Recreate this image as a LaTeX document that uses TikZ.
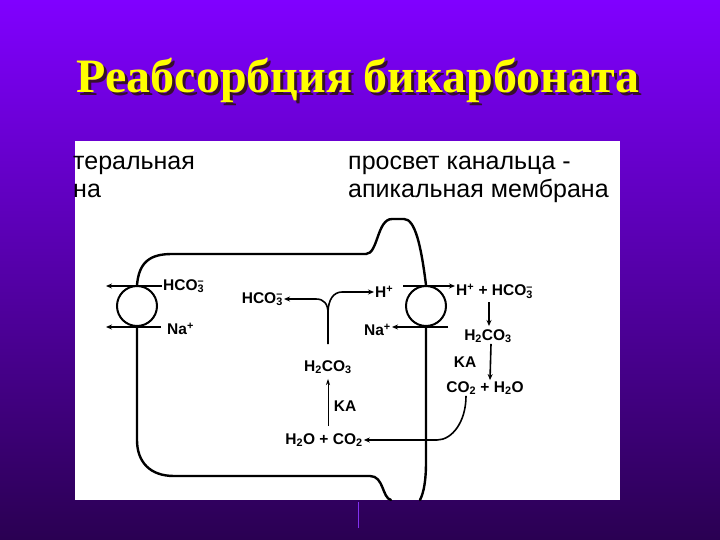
\documentclass[tikz,border=0pt]{standalone}
\usepackage{fontspec}
\setmainfont{Liberation Serif}
\setsansfont{Liberation Sans}
\usetikzlibrary{arrows.meta}
\definecolor{slideTop}{RGB}{128,0,255}
\definecolor{slideMid}{RGB}{98,0,210}
\definecolor{slideBot}{RGB}{42,0,82}
\definecolor{titleYellow}{RGB}{255,255,0}
\definecolor{titleShadow}{RGB}{55,15,45}
\definecolor{seamLine}{RGB}{130,50,240}
\newcommand{\hcoion}{HCO\rlap{\textsuperscript{--}}\textsubscript{3}}
\begin{document}
\begin{tikzpicture}
[x=1pt,y=-1pt,
  membraneLine/.style={line width=2.4pt,line cap=round},%
  fluxArrow/.style={-{Stealth[length=6pt,width=5pt]},line width=1.6pt},%
  thinArrow/.style={-{Stealth[length=6pt,width=4pt]},line width=0.9pt},%
  ionLabel/.style={font=\sffamily\bfseries\fontsize{15.5}{16}\selectfont,inner sep=1pt},%
  headLabel/.style={font=\sffamily\fontsize{25}{28}\selectfont,inner sep=0pt,anchor=base west},%
  titleText/.style={font=\bfseries\fontsize{48}{48}\selectfont,anchor=base},%
  carrier/.style={shape=circle,draw,line width=2pt,minimum size=40pt,inner sep=0pt}]
%% slide background and white panel
\shade[top color=slideTop,middle color=slideMid,bottom color=slideBot] (0,0) rectangle (720,540);
\useasboundingbox (0,0) rectangle (720,540);
\fill[white] (75,141) rectangle (620,500);
\draw[seamLine,line width=1pt] (358,502) -- (358,528);
%% title
\node[titleText,titleShadow] at (361,96) {Реабсорбция бикарбоната};
\node (title) [titleText,titleYellow] at (358,93) {Реабсорбция бикарбоната};
%% membrane captions
\node[headLabel] (basoTop) at (73,170) {теральная};
\node[headLabel] (basoBot) at (73,197) {на};
\node[headLabel] (lumenTop) at (348,170) {просвет канальца -};
\node[headLabel] (lumenBot) at (348,197) {апикальная мембрана};
%% carriers
\node[carrier] (carrierL) at (137,306) {};
\node[carrier] (carrierR) at (426,306) {};
%% ions and reactions
\foreach \name/\x/\y/\anc/\txt in {
  hcoLeft/162/286/west/{\hcoion}, naLeft/166/329/west/{Na\textsuperscript{+}},
  hcoMid/284/299/east/{\hcoion}, hMid/374/292/west/{H\textsuperscript{+}},
  naMid/392/330/east/{Na\textsuperscript{+}},
  hhcoRight/455/291/west/{H\textsuperscript{+} + \hcoion},
  acidRight/488/336/center/{H\textsubscript{2}CO\textsubscript{3}},
  kaRight/465/362/center/{KA},
  gasRight/485/388/center/{CO\textsubscript{2} + H\textsubscript{2}O},
  acidMid/328/367/center/{H\textsubscript{2}CO\textsubscript{3}},
  kaMid/345/406/center/{KA},
  gasMid/324/440/center/{H\textsubscript{2}O + CO\textsubscript{2}}}
{
  \node[ionLabel,anchor=\anc] (\name) at (\x,\y) {\txt};
}
\coordinate (bloodL1) at (106,286);
\coordinate (bloodL2) at (106,327);
\coordinate (lumenR1) at (403,286);
\coordinate (lumenR2) at (448,327);
\coordinate (fork) at (328,313);
\coordinate (forkBase) at (328,344);
\coordinate (gasExit) at ([xshift=-19pt]gasRight.south);
%% cell outline
\draw[membraneLine] (carrierL.north) .. controls (139,262) and (150,254) .. (172,254)
  -- (366,254) .. controls (378,254) and (377,219) .. (392,219) -- (404,219)
  .. controls (415,219) and (421,245) .. (carrierR.north);
\draw[membraneLine] (carrierL.south) -- (137,440) .. controls (137,462) and (150,476) .. (174,476)
  -- (370,476) .. controls (384,476) and (382,498) .. (391,500);
\draw[membraneLine] (carrierR.south) -- (426,462) .. controls (426,480) and (424,492) .. (420,500);
%% fluxes
\draw[fluxArrow] (hcoLeft.west |- bloodL1) -- (bloodL1);
\draw[fluxArrow] ([xshift=-5pt]naLeft.west |- bloodL2) -- (bloodL2);
\draw[fluxArrow] (lumenR1) -- (hhcoRight.west |- lumenR1);
\draw[fluxArrow] (lumenR2) -- (naMid.east |- lumenR2);
\draw[fluxArrow] (forkBase) -- (fork) .. controls +(0,-9) and +(8,0) .. ([xshift=-12pt]fork |- hcoMid) -- (hcoMid.east);
\draw[fluxArrow] (fork) .. controls +(0,-14) and +(-8,0) .. ([xshift=14pt]fork |- hMid) -- (hMid.west);
\draw[thinArrow,shorten <=6pt,shorten >=4pt] (acidMid.south |- gasMid.north) -- (acidMid.south);
\draw[fluxArrow,shorten <=3pt,shorten >=2pt] ([xshift=1pt]hhcoRight.south -| acidRight) -- ([xshift=1pt]acidRight.north);
\draw[fluxArrow] ([xshift=3pt]acidRight.south) -- ([xshift=5pt]gasRight.north);
\draw[fluxArrow] (gasExit) .. controls +(0,26) and +(15,0) .. ([xshift=-29pt]gasExit |- gasMid) -- (gasMid.east);
\end{tikzpicture}
\end{document}
